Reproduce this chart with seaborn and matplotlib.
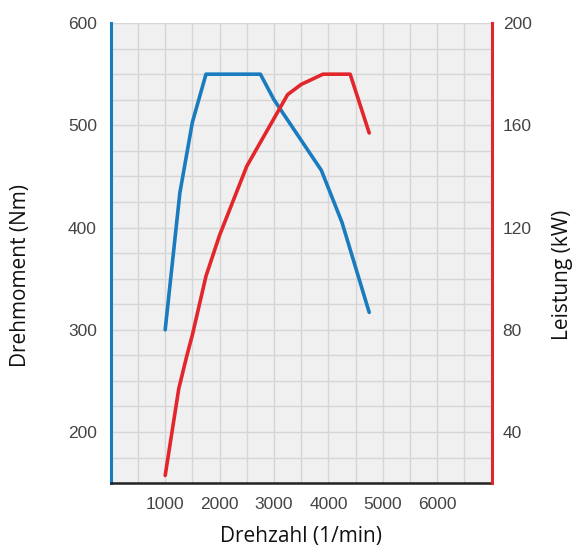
import numpy as np
import pandas as pd
import seaborn as sns
import matplotlib.pyplot as plt
from matplotlib.ticker import MultipleLocator

# torque curve (Nm) and power curve (kW)
torque_rpm = [1000, 1270, 1500, 1750, 2750, 3000, 3870, 4250, 4750]
torque_nm = [300, 434, 503, 550, 550, 525, 456, 405, 317]

power_rpm = [1000, 1250, 1400, 1500, 1750, 2000, 2500, 3250, 3500, 3900, 4400, 4750]
power_kw = [23, 57, 70, 78, 101, 117, 144, 172, 176, 180, 180, 157]

x_ticks = [1000, 2000, 3000, 4000, 5000, 6000]
left_ticks = [200, 300, 400, 500, 600]
right_ticks = [40, 80, 120, 160, 200]

blue = '#1a7bbf'
red = '#e2262b'

sns.set_style('white')
plt.rcParams['font.family'] = ['Liberation Sans', 'DejaVu Sans']

df_t = pd.DataFrame({'rpm': torque_rpm, 'nm': torque_nm})
df_p = pd.DataFrame({'rpm': power_rpm, 'kw': power_kw})

fig = plt.figure(figsize=(5.77, 5.49), dpi=100)
ax1 = fig.add_axes([0.192, 0.120, 0.660, 0.838])
ax1.set_facecolor('#f0f0f0')
ax2 = ax1.twinx()

sns.lineplot(data=df_t, x='rpm', y='nm', ax=ax1, color=blue, linewidth=2.6,
             estimator=None, sort=False)
sns.lineplot(data=df_p, x='rpm', y='kw', ax=ax2, color=red, linewidth=2.6,
             estimator=None, sort=False)

ax1.set_xlim(0, 7000)
ax1.set_ylim(150, 600)
ax2.set_ylim(20, 200)

ax1.set_xticks(x_ticks)
ax1.xaxis.set_minor_locator(MultipleLocator(500))
ax1.set_yticks(left_ticks)
ax1.yaxis.set_minor_locator(MultipleLocator(25))
ax2.set_yticks(right_ticks)

ax1.grid(True, which='both', color='#d6d6d6', linewidth=1)
ax1.set_axisbelow(True)
ax2.grid(False)

tick_kw = dict(length=0, labelsize=12.5, labelcolor='#444444')
ax1.tick_params(axis='x', which='both', pad=10, **tick_kw)
ax1.tick_params(axis='y', which='both', pad=10, **tick_kw)
ax2.tick_params(axis='y', which='both', pad=8, **tick_kw)

for ax in (ax1, ax2):
    for s in ax.spines.values():
        s.set_visible(False)
ax1.spines['left'].set_visible(True)
ax1.spines['left'].set_color(blue)
ax1.spines['left'].set_linewidth(2.2)
ax1.spines['bottom'].set_visible(True)
ax1.spines['bottom'].set_color('#222222')
ax1.spines['bottom'].set_linewidth(1.8)
ax2.spines['right'].set_visible(True)
ax2.spines['right'].set_color(red)
ax2.spines['right'].set_linewidth(2.2)

lab_kw = dict(fontsize=15, color='#111111', family=['Open Sans', 'DejaVu Sans'])
ax1.set_xlabel('Drehzahl (1/min)', **lab_kw)
ax1.set_ylabel('Drehmoment (Nm)', **lab_kw)
ax2.set_ylabel('Leistung (kW)', **lab_kw)

ax1.xaxis.label.set_va('center')
ax1.xaxis.set_label_coords(0.5, -0.117)
ax1.yaxis.label.set_va('center')
ax1.yaxis.set_label_coords(-0.238, 0.452)
ax2.yaxis.label.set_va('center')
ax2.yaxis.set_label_coords(1.187, 0.452)

fig.savefig('out.png', dpi=100)
